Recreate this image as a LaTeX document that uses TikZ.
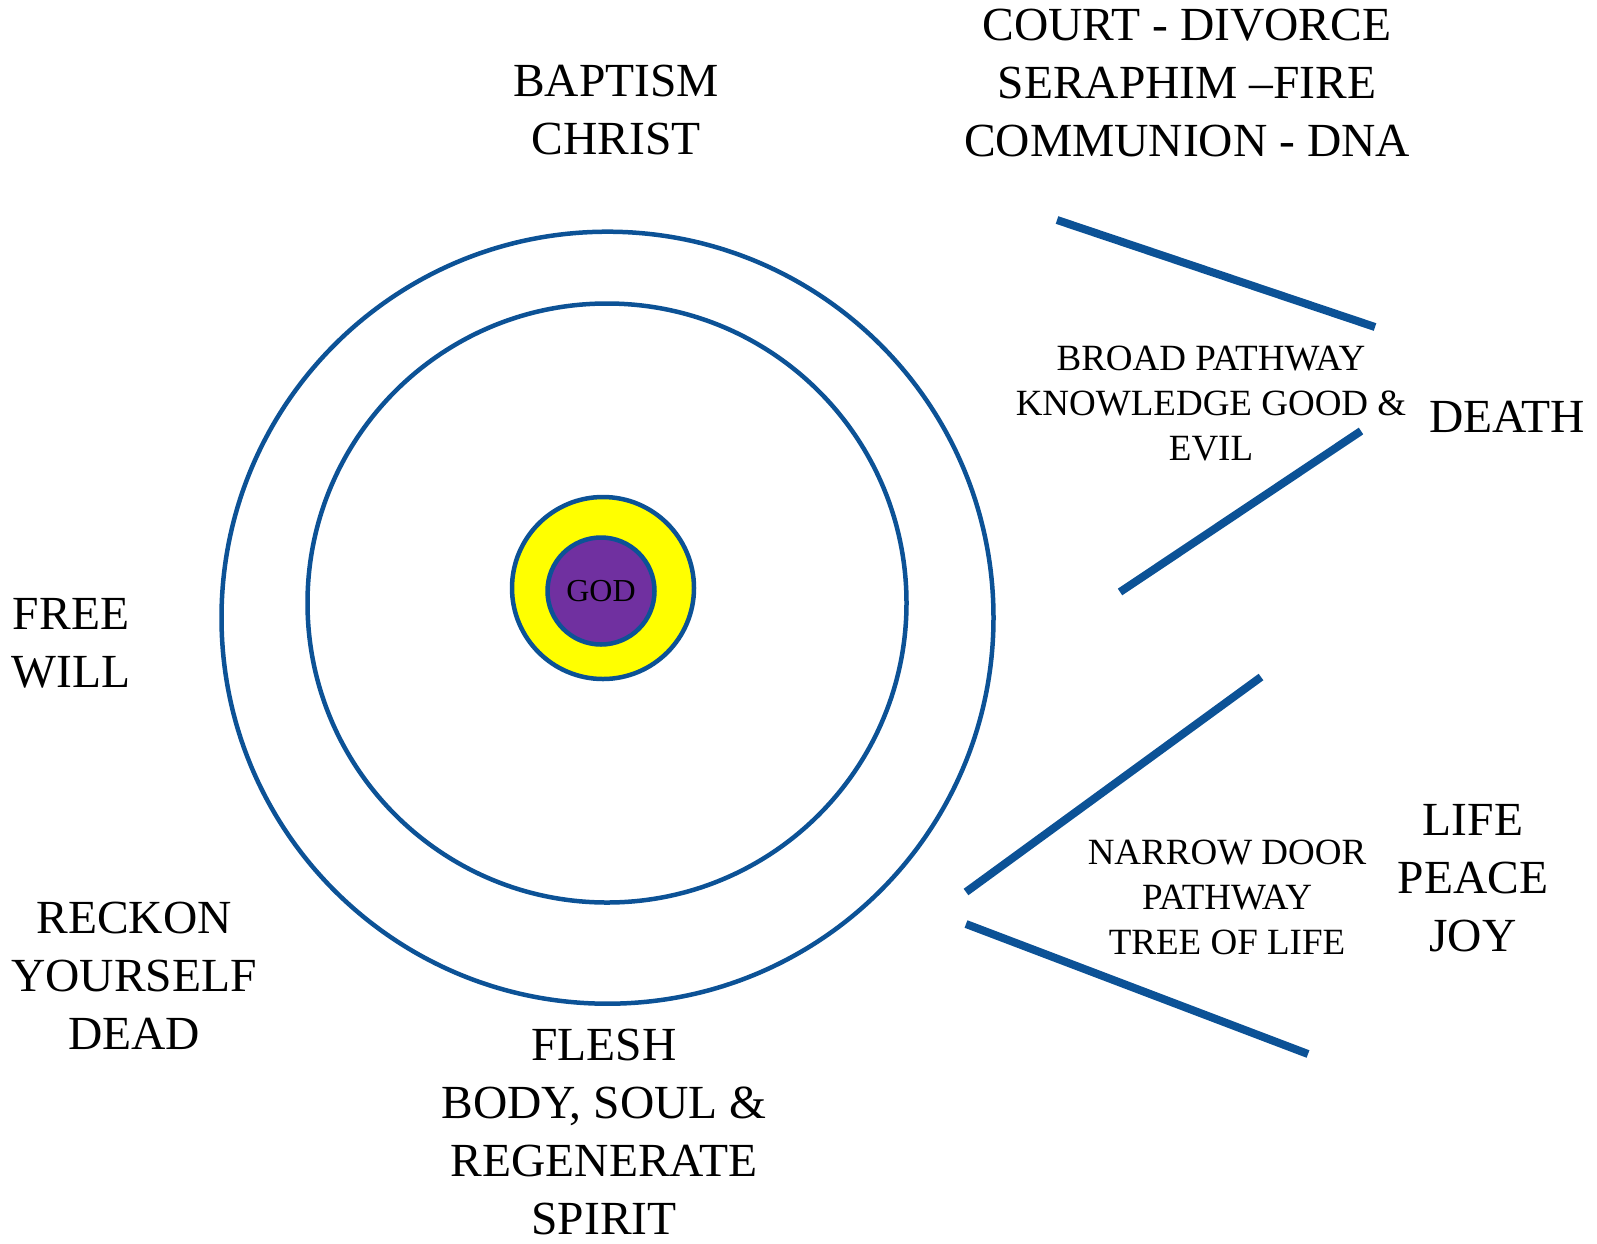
\documentclass[tikz,border=0pt]{standalone}
\usepackage{fontspec}
\setmainfont{Liberation Serif}
\definecolor{ringblue}{RGB}{12,82,150}
\definecolor{godpurple}{RGB}{112,48,160}
\definecolor{godyellow}{RGB}{255,255,0}
\begin{document}
\begin{tikzpicture}[x=1pt,y=-1pt,
  ring/.style={draw=ringblue,line width=4.5pt},
  path/.style={draw=ringblue,line width=8pt},
  big/.style={align=center,inner sep=0pt,font=\fontsize{47.5}{58}\selectfont},
  small/.style={align=center,inner sep=0pt,font=\fontsize{37}{45}\selectfont}]
\useasboundingbox (0,0) rectangle (1597,1243);
\draw[ring] (607.5,617.7) circle (386);
\draw[ring] (607,603) circle (299.5);
\draw[ring,fill=godyellow] (603,588) circle (91);
\node[ring,fill=godpurple,circle,minimum size=107pt,inner sep=0pt,font=\fontsize{32}{36}\selectfont] (god) at (601,591) {GOD};
% pathways
\coordinate (a1) at (1057,220); \coordinate (a2) at (1375,327);
\coordinate (b1) at (1361,431); \coordinate (b2) at (1120,592);
\coordinate (c1) at (1261,677); \coordinate (c2) at (966,892);
\coordinate (d1) at (966,924); \coordinate (d2) at (1308,1054);
\draw[path] (a1) -- (a2);
\draw[path] (b1) -- (b2);
\draw[path] (c1) -- (c2);
\draw[path] (d1) -- (d2);
% texts
\node[big] (baptism) at (616,110) {BAPTISM\\CHRIST};
\node[big] (court) at (1187,83) {COURT - DIVORCE\\SERAPHIM --FIRE\\COMMUNION - DNA};
\node[big] (free) at (71,643) {FREE\\WILL};
\node[big] (reckon) at (134,976) {RECKON\\YOURSELF\\DEAD};
\node[big] (flesh) at (604,1132) {FLESH\\BODY, SOUL \&\\REGENERATE\\SPIRIT};
\node[big] (death) at (1507,417) {DEATH};
\node[small] (broad) at (1211,404) {BROAD PATHWAY\\KNOWLEDGE GOOD \&\\EVIL};
\node[small] (narrow) at (1227,897) {NARROW DOOR\\PATHWAY\\TREE OF LIFE};
\node[big] (life) at (1473,878) {LIFE\\PEACE\\JOY};
\end{tikzpicture}
\end{document}
